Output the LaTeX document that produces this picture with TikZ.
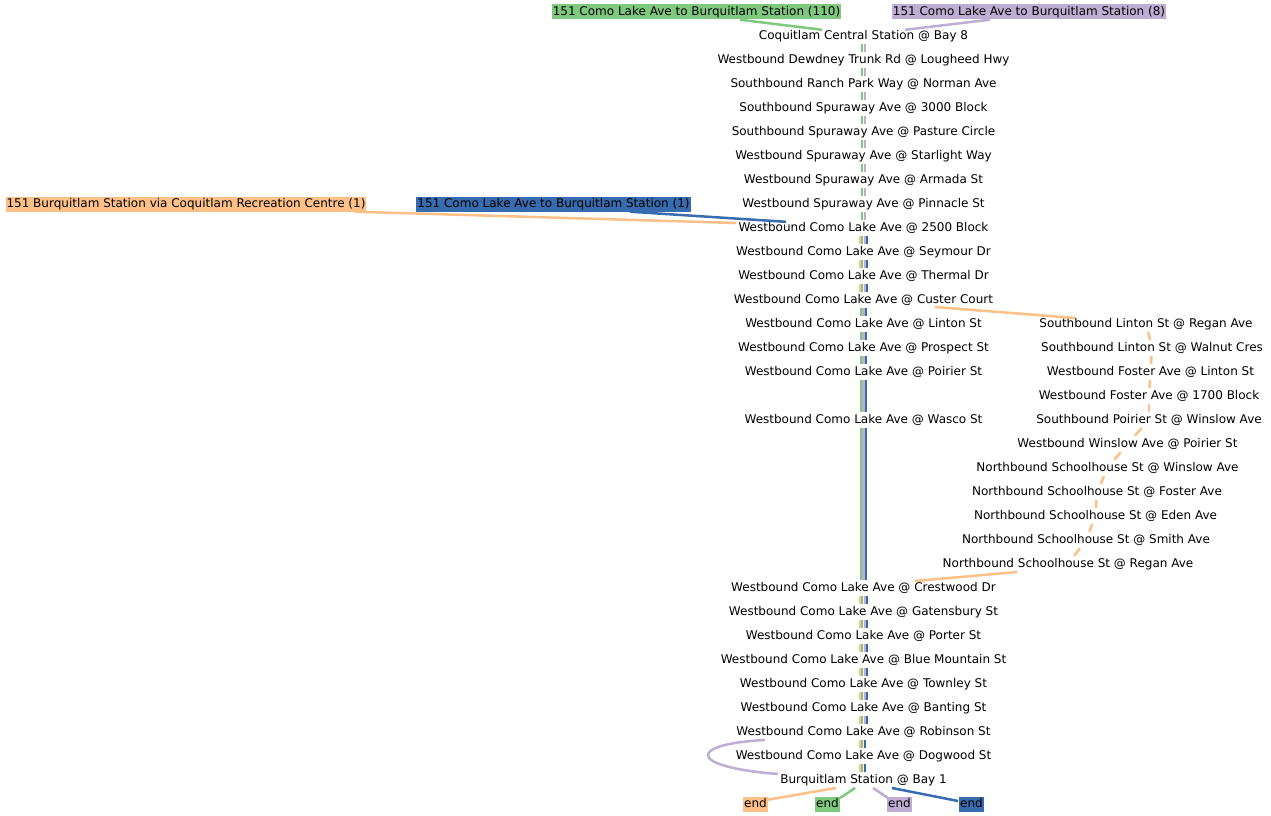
\documentclass[tikz,border=0pt]{standalone}
\usepackage{fontspec}
\setmainfont{DejaVu Sans}
\usetikzlibrary{calc}
\definecolor{cO}{HTML}{FDC086}
\definecolor{cG}{HTML}{7FC97F}
\definecolor{cP}{HTML}{BEAED4}
\definecolor{cB}{HTML}{386CB0}
\begin{document}
\begin{tikzpicture}[x=1bp,y=-1bp,
  stop/.style={inner xsep=1bp, inner ysep=1.5bp, text height=10bp, text depth=3bp, font=\fontsize{12bp}{14bp}\selectfont},
  lab/.style={stop, inner ysep=1bp},
  ln/.style={line width=2.5bp},
  sl/.style={line width=2.2bp},
]
\useasboundingbox[fill=white] (0,-1) rectangle (1271,815);
% central column
\node[stop] (c1) at (863.5,35) {Coquitlam Central Station @ Bay 8};
\node[stop] (c2) at (863.5,59) {Westbound Dewdney Trunk Rd @ Lougheed Hwy};
\node[stop] (c3) at (863.5,83) {Southbound Ranch Park Way @ Norman Ave};
\node[stop] (c4) at (863.5,107) {Southbound Spuraway Ave @ 3000 Block};
\node[stop] (c5) at (863.5,131) {Southbound Spuraway Ave @ Pasture Circle};
\node[stop] (c6) at (863.5,155) {Westbound Spuraway Ave @ Starlight Way};
\node[stop] (c7) at (863.5,179) {Westbound Spuraway Ave @ Armada St};
\node[stop] (c8) at (863.5,203) {Westbound Spuraway Ave @ Pinnacle St};
\node[stop] (c9) at (863.5,227) {Westbound Como Lake Ave @ 2500 Block};
\node[stop] (c10) at (863.5,251) {Westbound Como Lake Ave @ Seymour Dr};
\node[stop] (c11) at (863.5,275) {Westbound Como Lake Ave @ Thermal Dr};
\node[stop] (c12) at (863.5,299) {Westbound Como Lake Ave @ Custer Court};
\node[stop] (c13) at (863.5,323) {Westbound Como Lake Ave @ Linton St};
\node[stop] (c14) at (863.5,347) {Westbound Como Lake Ave @ Prospect St};
\node[stop] (c15) at (863.5,371) {Westbound Como Lake Ave @ Poirier St};
\node[stop] (c16) at (863.5,419) {Westbound Como Lake Ave @ Wasco St};
\node[stop] (c17) at (863.5,587) {Westbound Como Lake Ave @ Crestwood Dr};
\node[stop] (c18) at (863.5,611) {Westbound Como Lake Ave @ Gatensbury St};
\node[stop] (c19) at (863.5,635) {Westbound Como Lake Ave @ Porter St};
\node[stop] (c20) at (863.5,659) {Westbound Como Lake Ave @ Blue Mountain St};
\node[stop] (c21) at (863.5,683) {Westbound Como Lake Ave @ Townley St};
\node[stop] (c22) at (863.5,707) {Westbound Como Lake Ave @ Banting St};
\node[stop] (c23) at (863.5,731) {Westbound Como Lake Ave @ Robinson St};
\node[stop] (c24) at (863.5,755) {Westbound Como Lake Ave @ Dogwood St};
\node[stop] (c25) at (863.5,779) {Burquitlam Station @ Bay 1};
% right branch
\node[stop] (r1) at (1146,323) {Southbound Linton St @ Regan Ave};
\node[stop] (r2) at (1152,347) {Southbound Linton St @ Walnut Cres};
\node[stop] (r3) at (1150.5,371) {Westbound Foster Ave @ Linton St};
\node[stop] (r4) at (1149,395) {Westbound Foster Ave @ 1700 Block};
\node[stop] (r5) at (1149,419) {Southbound Poirier St @ Winslow Ave};
\node[stop] (r6) at (1127.5,443) {Westbound Winslow Ave @ Poirier St};
\node[stop] (r7) at (1107.5,467) {Northbound Schoolhouse St @ Winslow Ave};
\node[stop] (r8) at (1097,491) {Northbound Schoolhouse St @ Foster Ave};
\node[stop] (r9) at (1095.5,515) {Northbound Schoolhouse St @ Eden Ave};
\node[stop] (r10) at (1086,539) {Northbound Schoolhouse St @ Smith Ave};
\node[stop] (r11) at (1068,563) {Northbound Schoolhouse St @ Regan Ave};
% route labels
\node[lab, fill=cG] (g110) at (696.5,11) {151 Como Lake Ave to Burquitlam Station (110)};
\node[lab, fill=cP] (p8) at (1029,11) {151 Como Lake Ave to Burquitlam Station (8)};
\node[lab, fill=cO] (o1) at (186,203) {151 Burquitlam Station via Coquitlam Recreation Centre (1)};
\node[lab, fill=cB] (b1) at (553.5,203) {151 Como Lake Ave to Burquitlam Station (1)};
\node[lab, fill=cO] (eO) at (755.5,803) {end};
\node[lab, fill=cG] (eG) at (827.5,803) {end};
\node[lab, fill=cP] (eP) at (899.5,803) {end};
\node[lab, fill=cB] (eB) at (971.5,803) {end};
% trunk stripes: green + purple
\foreach \a/\b in {c1/c2,c2/c3,c3/c4,c4/c5,c5/c6,c6/c7,c7/c8,c8/c9}{
  \draw[sl,cG] ([xshift=-1.25bp]\a.south) -- ([xshift=-1.25bp]\b.north);
  \draw[sl,cP] ([xshift=1.25bp]\a.south) -- ([xshift=1.25bp]\b.north);
}
% four lines
\foreach \a/\b in {c9/c10,c10/c11,c11/c12,c17/c18,c18/c19,c19/c20,c20/c21,c21/c22,c22/c23}{
  \draw[sl,cO] ([xshift=-3.75bp]\a.south) -- ([xshift=-3.75bp]\b.north);
  \draw[sl,cG] ([xshift=-1.25bp]\a.south) -- ([xshift=-1.25bp]\b.north);
  \draw[sl,cP] ([xshift=1.25bp]\a.south) -- ([xshift=1.25bp]\b.north);
  \draw[sl,cB] ([xshift=3.75bp]\a.south) -- ([xshift=3.75bp]\b.north);
}
% green, purple, blue
\foreach \a/\b in {c12/c13,c13/c14,c14/c15,c15/c16,c16/c17}{
  \draw[sl,cG] ([xshift=-2.5bp]\a.south) -- ([xshift=-2.5bp]\b.north);
  \draw[sl,cP] ([xshift=0bp]\a.south) -- ([xshift=0bp]\b.north);
  \draw[sl,cB] ([xshift=2.5bp]\a.south) -- ([xshift=2.5bp]\b.north);
}
% orange, green, blue
\foreach \a/\b in {c23/c24,c24/c25}{
  \draw[sl,cO] ([xshift=-3.75bp]\a.south) -- ([xshift=-3.75bp]\b.north);
  \draw[sl,cG] ([xshift=-1.25bp]\a.south) -- ([xshift=-1.25bp]\b.north);
  \draw[sl,cB] ([xshift=1.25bp]\a.south) -- ([xshift=1.25bp]\b.north);
}
% orange branch
\draw[ln,cO] ($(c12.center)+(71.5,7)$) -- ($(r1.center)+(-71,-6)$);
\foreach \a/\b in {r1/r2,r2/r3,r3/r4,r4/r5,r5/r6,r6/r7,r7/r8,r8/r9,r9/r10,r10/r11}{
  \draw[ln,cO] (\a) -- (\b);
}
\draw[ln,cO] ($(r11.center)+(-51,8)$) -- ($(c17.center)+(51.5,-7)$);
% label connectors
\draw[ln,cG] ($(g110.south)+(43.5,0)$) -- ($(c1.north)+(-41.5,2)$);
\draw[ln,cP] ($(p8.south)+(-39,0)$) -- ($(c1.north)+(41.5,2)$);
\draw[ln,cO] ($(o1.south)+(169,0)$) -- ($(c9.west)+(-1,-5)$);
\draw[ln,cB] ($(b1.south)+(76.5,0)$) -- ($(c9.north)+(-77.5,2)$);
% purple loop
\draw[ln,cP] ($(c23.center)+(-98.5,8)$) .. controls ($(c23.center)+(-176.5,12)$) and ($(c25.center)+(-176.5,-13)$) .. ($(c25.center)+(-85.5,-6)$);
% to ends
\draw[ln,cO] ($(c25.center)+(-27.5,8)$) -- ($(eO.center)+(10.5,-4)$);
\draw[ln,cG] ($(c25.center)+(-8.5,8)$) -- ($(eG.center)+(12.5,-6)$);
\draw[ln,cP] ($(c25.center)+(9.5,8)$) -- ($(eP.center)+(-11.5,-6)$);
\draw[ln,cB] ($(c25.center)+(28.5,8)$) -- ($(eB.center)+(-13.5,-3)$);
\end{tikzpicture}
\end{document}
